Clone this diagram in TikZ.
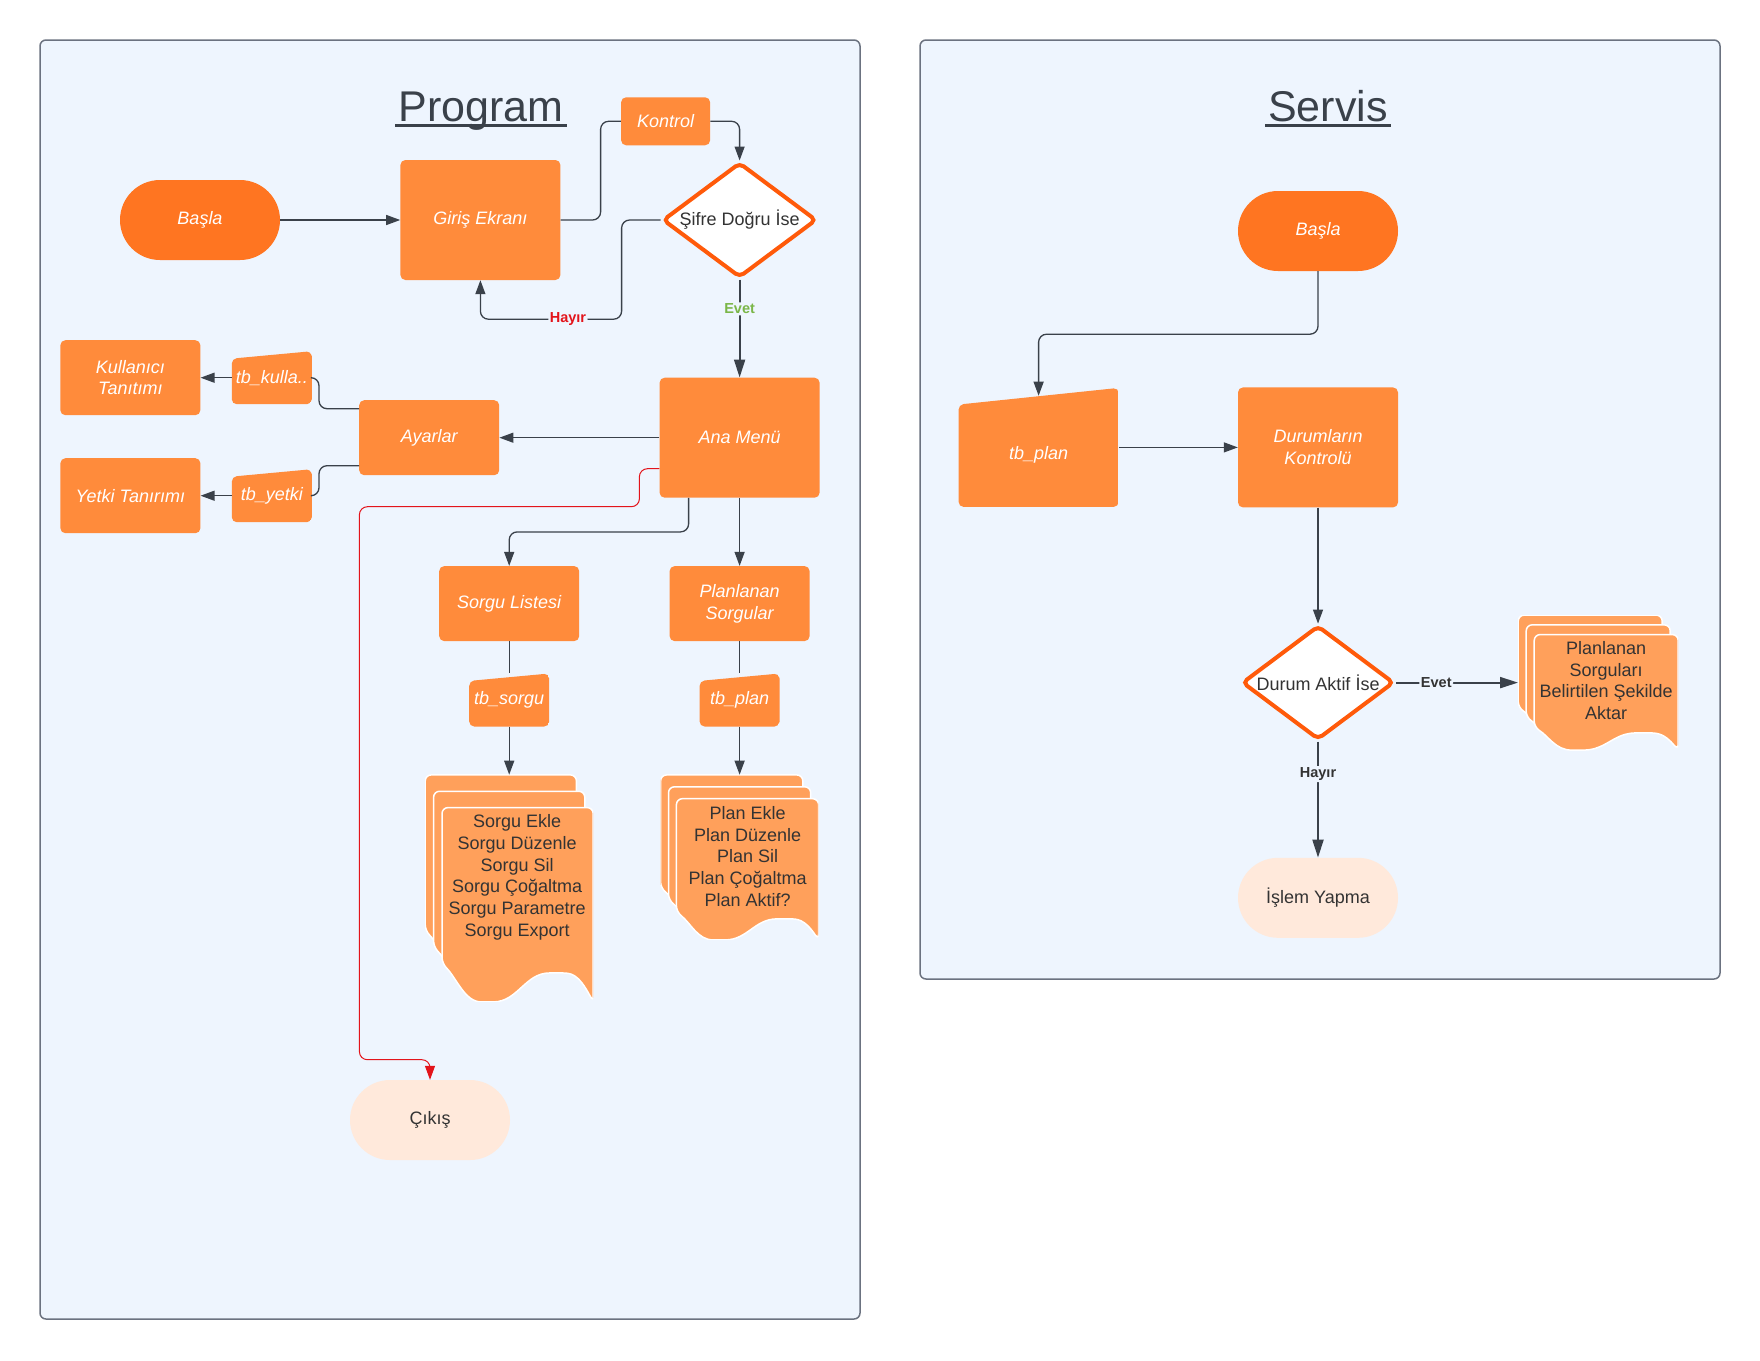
\documentclass[tikz,border=0pt]{standalone}
\usepackage{fontspec}
\setmainfont{Liberation Sans}
\usetikzlibrary{positioning}
\usetikzlibrary{arrows.meta}
\usetikzlibrary{calc, shapes.geometric}

\definecolor{panelBlue}{HTML}{EEF5FE}
\definecolor{panelLine}{HTML}{6B7280}
\definecolor{startOrange}{HTML}{FF7521}
\definecolor{procOrange}{HTML}{FF8B3B}
\definecolor{docOrange}{HTML}{FFA05B}
\definecolor{diaOrange}{HTML}{FF5A0A}
\definecolor{endPeach}{HTML}{FFE9DB}
\definecolor{lineGray}{HTML}{3A414A}
\definecolor{textDark}{HTML}{333333}
\definecolor{noRed}{HTML}{E3141B}
\definecolor{yesGreen}{HTML}{7AB648}

\tikzset{%
	% Specifications for style of nodes:
	base/.style = {rectangle, rounded corners=5pt, inner sep=4pt, align=center, text=white,
		font=\fontsize{18pt}{21.7pt}\selectfont\itshape},
	startstop/.style = {base, fill=startOrange, minimum width=160pt, minimum height=80pt, rounded corners=40pt},
	endstop/.style = {startstop, fill=endPeach, text=textDark, font=\fontsize{18pt}{21.7pt}\selectfont},
	process/.style = {base, fill=procOrange, minimum width=140pt, minimum height=75pt},
	bigProcess/.style = {process, minimum width=160pt, minimum height=120pt},
	decision/.style = {diamond, shape aspect=1.34, draw=diaOrange, line width=4pt, fill=white, rounded corners=5pt,
		inner sep=0pt, text=textDark, font=\fontsize{18pt}{21.7pt}\selectfont},
	docText/.style = {align=center, text=textDark, font=\fontsize{18pt}{21.7pt}\selectfont},
	flowLabel/.style = {fill=panelBlue, inner sep=1.5pt, font=\fontsize{14.5pt}{16pt}\selectfont\bfseries},
	connector/.style = {draw=lineGray, line width=1.3pt, rounded corners=8pt},
	flow/.style = {connector, -{Triangle[length=14pt, width=10pt]}},
	thickFlow/.style = {connector, line width=2pt, -{Triangle[length=18pt, width=11pt]}},
	exitFlow/.style = {connector, draw=noRed, line width=1pt, -{Triangle[length=14pt, width=10pt]}},
	panel/.style = {draw=panelLine, line width=1.5pt, fill=panelBlue, rounded corners=6pt},
	panelTitle/.style = {text=lineGray, font=\fontsize{43pt}{50pt}\selectfont, inner sep=3pt},
	manualin/.style = {base, minimum width=80pt, minimum height=53pt,
		path picture={
			\fill[procOrange, rounded corners=5pt] let
				\p1 = (path picture bounding box.south west),
				\p2 = (path picture bounding box.north east)
			in
				(\x1,\y1) -- (\x1,{\y2-0.14*(\y2-\y1)}) -- (\x2,\y2) -- (\x2,\y1) -- cycle;
		}}
}
\makeatletter
\tikzset{
	docstack/.style={
		path picture={
			\foreach \i in {0,1,2}{
				\pgfmathsetmacro\shL{-0.5*\docstack@w+0.05*\i*\docstack@w}
				\pgfmathsetmacro\shW{0.9*\docstack@w}
				\pgfmathsetmacro\shT{0.5*\docstack@h-0.072*\i*\docstack@h}
				\pgfmathsetmacro\shB{-0.5*\docstack@h+0.072*(2-\i)*\docstack@h}
				\pgfmathsetmacro\shS{0.17*\docstack@h}
				\fill[docOrange, draw=white, line width=1.5pt, rounded corners=6pt]
					({\shL*1pt},{(\shB+\shS)*1pt}) -- ({\shL*1pt},{\shT*1pt})
					-- ({(\shL+\shW)*1pt},{\shT*1pt}) -- ({(\shL+\shW)*1pt},{\shB*1pt})
					.. controls ({(\shL+0.9*\shW)*1pt},{(\shB+0.75*\shS)*1pt}) and ({(\shL+0.85*\shW)*1pt},{(\shB+0.75*\shS)*1pt})
					.. ({(\shL+0.75*\shW)*1pt},{(\shB+0.75*\shS)*1pt})
					.. controls ({(\shL+0.55*\shW)*1pt},{(\shB+0.75*\shS)*1pt}) and ({(\shL+0.5*\shW)*1pt},{\shB*1pt})
					.. ({(\shL+0.3*\shW)*1pt},{\shB*1pt})
					.. controls ({(\shL+0.15*\shW)*1pt},{\shB*1pt}) and ({(\shL+0.1*\shW)*1pt},{(\shB+0.6*\shS)*1pt})
					.. ({\shL*1pt},{(\shB+\shS)*1pt}) -- cycle;
			}
		},
		minimum width=\docstack@w,
		minimum height=\docstack@h,
		inner sep=0pt,
	},
	docstack width/.store in=\docstack@w,
	docstack height/.store in=\docstack@h,
	docstack width=160pt,
	docstack height=140pt,
}
\makeatother

\begin{document}
\begin{tikzpicture}[x=1pt, y=-1pt]
	\useasboundingbox[fill=white] (0,0) rectangle (1760,1360);
	\draw[panel] (40,40) rectangle (860,1319);
	\draw[panel] (920,40) rectangle (1720,979);
	\node (programTitle) [panelTitle, anchor=base] at (481,121) {Program};
	\draw[lineGray, line width=3pt] ([yshift=-4.5pt]programTitle.base west) -- ([yshift=-4.5pt]programTitle.base east);
	\node (servisTitle) [panelTitle, anchor=base] at (1328,121) {Servis};
	\draw[lineGray, line width=3pt] ([yshift=-4.5pt]servisTitle.base west) -- ([yshift=-4.5pt]servisTitle.base east);

	% Program
	\node (basla) [startstop] at (200,220) {Başla};
	\node (giris) [bigProcess, right=120pt of basla] {Giriş Ekranı};
	\node (sifre) [decision, minimum width=154pt, minimum height=115pt, right=100pt of giris] {Şifre Doğru İse};
	\node (kontrol) [process, minimum width=89pt, minimum height=48pt, above=15pt of sifre, xshift=-74pt] {Kontrol};
	\node (anaMenu) [bigProcess, below=98pt of sifre] {Ana Menü};
	\node (ayarlar) [process, left=160pt of anaMenu] {Ayarlar};
	\node (tbKulla) [manualin, left=47pt of ayarlar, yshift=60pt] {tb\_kulla..};
	\node (kullanici) [process, left=31pt of tbKulla] {Kullanıcı\\Tanıtımı};
	\node (tbYetki) [manualin, left=47pt of ayarlar, yshift=-58pt] {tb\_yetki};
	\node (yetki) [process, left=31pt of tbYetki] {Yetki Tanırımı};
	\node (planlanan) [process, below=68pt of anaMenu] {Planlanan\\Sorgular};
	\node (sorguListesi) [process, left=90pt of planlanan] {Sorgu Listesi};
	\node (tbSorgu) [manualin, below=32pt of sorguListesi] {tb\_sorgu};
	\node (tbPlan) [manualin, below=32pt of planlanan] {tb\_plan};
	\node (sorguDocs) [docstack, docstack width=168pt, docstack height=227pt, below=48pt of tbSorgu] {};
	\node (sorguDocsText) [docText] at ([xshift=8pt, yshift=11pt]sorguDocs.center) {Sorgu Ekle\\Sorgu Düzenle\\Sorgu Sil\\Sorgu Çoğaltma\\Sorgu Parametre\\Sorgu Export};
	\node (planDocs) [docstack, docstack width=158pt, docstack height=165pt, below=48pt of tbPlan] {};
	\node (planDocsText) [docText] at ([xshift=8pt, yshift=1pt]planDocs.center) {Plan Ekle\\Plan Düzenle\\Plan Sil\\Plan Çoğaltma\\Plan Aktif?};
	\node (cikis) [endstop] at (430,1120) {Çıkış};

	\draw[flow] (basla) -- (giris);
	\draw[connector] (giris.east) -- ++(40,0) |- (kontrol.west);
	\draw[flow] (kontrol.east) -| (sifre.north);
	\path let
		\p1 = (giris.south)
	in
		coordinate (hayirTurn) at (\x1, \y1 - 39pt);
	\draw[flow] (sifre.west) -- ++(-39,0) |- node[flowLabel, text=noRed, pos=0.69] {Hayır} (hayirTurn) -- (giris.south);
	\draw[thickFlow] (sifre.south) -- node[flowLabel, text=yesGreen, pos=0.3] {Evet} (anaMenu.north);
	\draw[flow] (anaMenu.west) -- (ayarlar.east);
	\draw[connector] ([yshift=29pt]ayarlar.west) -- ++(-40,0) |- (tbKulla.east);
	\draw[flow] (tbKulla) -- (kullanici);
	\draw[connector] ([yshift=-28pt]ayarlar.west) -- ++(-40,0) |- (tbYetki.east);
	\draw[flow] (tbYetki) -- (yetki);
	\draw[exitFlow] ([yshift=-31pt]anaMenu.west) -- ++(-20,0) -- ++(0,38) -| ++(-280,553) -| (cikis.north);
	\draw[flow] ([xshift=-51pt]anaMenu.south) -- ++(0,34) -| (sorguListesi.north);
	\draw[flow] (anaMenu) -- (planlanan);
	\draw[connector] (sorguListesi) -- (tbSorgu);
	\draw[flow] (tbSorgu) -- (sorguDocs);
	\draw[connector] (planlanan) -- (tbPlan);
	\draw[flow] (tbPlan) -- (planDocs);

	% Servis
	\node (servisBasla) [startstop] at (1318,231) {Başla};
	\node (durumKontrol) [bigProcess, below=116pt of servisBasla] {Durumların\\Kontrolü};
	\node (tbPlanServis) [manualin, minimum width=160pt, minimum height=119pt, text height=28pt, left=119pt of durumKontrol] {tb\_plan};
	\node (durumAktif) [decision, minimum width=152pt, minimum height=114pt, below=116pt of durumKontrol] {Durum Aktif İse};
	\node (aktarDocs) [docstack, docstack width=160pt, docstack height=135pt, right=122pt of durumAktif] {};
	\node (aktarDocsText) [docText] at ([xshift=8pt, yshift=2pt]aktarDocs.center) {Planlanan\\Sorguları\\Belirtilen Şekilde\\Aktar};
	\node (islemYapma) [endstop, below=116pt of durumAktif] {İşlem Yapma};

	\draw[flow] (servisBasla.south) -- ++(0,63) -| ([yshift=-8pt]tbPlanServis.north);
	\draw[flow] (tbPlanServis) -- (durumKontrol);
	\draw[flow] (durumKontrol) -- (durumAktif);
	\draw[thickFlow] (durumAktif) -- node[flowLabel, text=textDark, pos=0.33] {Evet} (aktarDocs);
	\draw[thickFlow] (durumAktif) -- node[flowLabel, text=textDark, pos=0.28] {Hayır} (islemYapma);
\end{tikzpicture}
\end{document}
